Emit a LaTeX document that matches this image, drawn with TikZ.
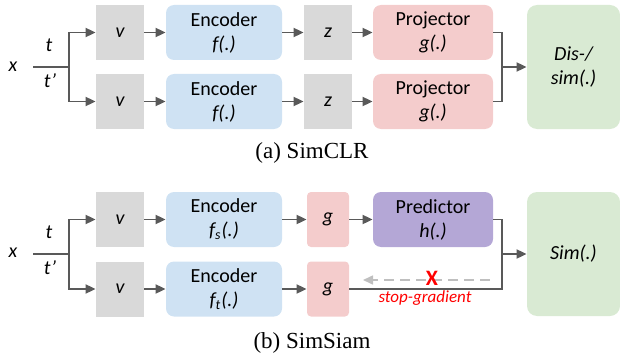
\documentclass[tikz,border=0pt]{standalone}
\usepackage{fontspec}
\setmainfont{Carlito}
\newfontfamily\capfont{Liberation Serif}
\usetikzlibrary{arrows.meta}
\definecolor{boxgray}{HTML}{D9D9D9}
\definecolor{encblue}{HTML}{CFE2F3}
\definecolor{projpink}{HTML}{F4CCCC}
\definecolor{predpurple}{HTML}{B4A7D6}
\definecolor{simgreen}{HTML}{D9EAD3}
\definecolor{linegray}{HTML}{595959}
\definecolor{dashgray}{HTML}{BFBFBF}
\tikzset{
  blk/.style={inner sep=0pt,align=center,font=\fontsize{10}{12}\selectfont,
    minimum height=27.5pt},
  view/.style={blk,fill=boxgray,minimum width=24pt},
  enc/.style={blk,fill=encblue,rounded corners=4pt,minimum width=58pt},
  proj/.style={blk,fill=projpink,rounded corners=4pt,minimum width=60pt},
  gbox/.style={blk,fill=projpink,rounded corners=2pt,minimum width=21pt},
  pred/.style={blk,fill=predpurple,rounded corners=4pt,minimum width=60pt},
  simbox/.style={blk,fill=simgreen,rounded corners=5pt,minimum width=46.5pt,minimum height=62pt},
  lbl/.style={inner sep=0pt,font=\fontsize{10}{12}\selectfont\itshape},
  line/.style={draw=linegray,line width=0.9pt},
  arr/.style={line,-{Triangle[length=5pt,width=4.5pt]}},
  captxt/.style={inner sep=0pt,font=\capfont\fontsize{11.5}{14}\selectfont}
}

\begin{document}
\begin{tikzpicture}[x=0.5pt,y=-0.5pt]
\useasboundingbox (0,0) rectangle (620,358);

% (a) SimCLR
\node[lbl] (xa) at (13,67) {x};
\coordinate (sa) at (33,67);
\coordinate (ba) at (69,67);
\node[lbl] at (49,45) {t};
\node[lbl] at (50,81) {t’};
\node[view] (va1) at (120,32.5) {\itshape v};
\node[view] (va2) at (120,101.5) {\itshape v};
\node[enc] (enca1) at (224,32.5) {Encoder\\\itshape f(.)};
\node[enc] (enca2) at (224,101.5) {Encoder\\\itshape f(.)};
\node[view] (za1) at (328,32.5) {\itshape z};
\node[view] (za2) at (328,101.5) {\itshape z};
\node[proj] (proja1) at (433,32.5) {Projector\\\itshape g(.)};
\node[proj] (proja2) at (433,101.5) {Projector\\\itshape g(.)};
\node[simbox] (dis) at (573.5,67) {\itshape Dis-/\\\itshape sim(.)};
\coordinate (ma) at (502,67);
\draw[line] (sa) -- (ba);
\draw[arr] (ba) |- (va1);
\draw[arr] (ba) |- (va2);
\draw[arr] (va1) -- (enca1);
\draw[arr] (va2) -- (enca2);
\draw[arr] (enca1) -- (za1);
\draw[arr] (enca2) -- (za2);
\draw[arr] (za1) -- (proja1);
\draw[arr] (za2) -- (proja2);
\draw[line] (proja1.east) -| (ma) |- (proja2.east);
\draw[arr] (ma) -- (dis);
\node[captxt] at (312,153) {(a) SimCLR};

% (b) SimSiam
\node[lbl] (xb) at (13,253) {x};
\coordinate (sb) at (33,254);
\coordinate (bb) at (69,254);
\node[lbl] at (49,232) {t};
\node[lbl] at (50,268) {t’};
\node[view] (vb1) at (120,219.5) {\itshape v};
\node[view] (vb2) at (120,289) {\itshape v};
\node[enc] (encb1) at (224,219.5) {Encoder\\\itshape f\textsubscript{s}(.)};
\node[enc] (encb2) at (224,289) {Encoder\\\itshape f\textsubscript{t}(.)};
\node[gbox] (gb1) at (328,219.5) {\itshape g};
\node[gbox] (gb2) at (328,289) {\itshape g};
\node[pred] (pred) at (433,219.5) {Predictor\\\itshape h(.)};
\node[simbox] (sim) at (573.5,254) {\itshape Sim(.)};
\coordinate (mb) at (502,254);
\draw[line] (sb) -- (bb);
\draw[arr] (bb) |- (vb1);
\draw[arr] (bb) |- (vb2);
\draw[arr] (vb1) -- (encb1);
\draw[arr] (vb2) -- (encb2);
\draw[arr] (encb1) -- (gb1);
\draw[arr] (encb2) -- (gb2);
\draw[arr] (gb1) -- (pred);
\draw[line] (pred.east) -| (mb) |- (gb2.east);
\draw[arr] (mb) -- (sim);
\coordinate (ds) at (490,280);
\coordinate (de) at (363,280);
\draw[draw=dashgray,line width=0.8pt,dash pattern=on 5pt off 3pt,
  -{Triangle[length=5pt,width=4.5pt]}] (ds) -- (de);
\node[inner sep=0pt,text=red,font=\fontsize{11}{12}\selectfont\bfseries] (stopx) at (432,278) {X};
\node[inner sep=0pt,text=red,font=\fontsize{8.5}{10}\selectfont\itshape] (stoplbl) at (425,298) {stop-gradient};
\node[captxt] at (312,343) {(b) SimSiam};
\end{tikzpicture}
\end{document}
